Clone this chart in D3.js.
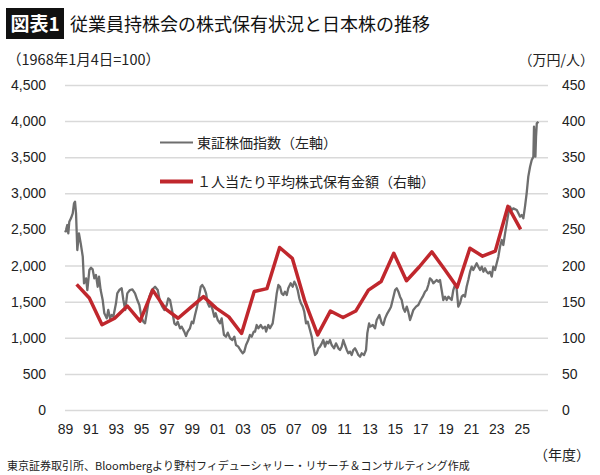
<!DOCTYPE html>
<html lang="ja">
<head>
<meta charset="utf-8">
<script src="https://cdn.jsdelivr.net/npm/d3@7"></script>
<style>
  html, body { margin: 0; padding: 0; background: #fff; }
  svg text { font-family: "Noto Sans CJK JP", sans-serif; fill: #222; }
  svg .num text, svg text.num { font-family: "Liberation Sans", Arial, sans-serif; }
</style>
</head>
<body>
<div id="chart"></div>
<script>
// 1人当たり平均株式保有金額（万円、年度末）
var fiscalYears = [1989, 1990, 1991, 1992, 1993, 1994, 1995, 1996, 1997, 1998,
    1999, 2000, 2001, 2002, 2003, 2004, 2005, 2006, 2007, 2008,
    2009, 2010, 2011, 2012, 2013, 2014, 2015, 2016, 2017, 2018,
    2019, 2020, 2021, 2022, 2023, 2024];
var holdingPerPerson = [174, 155, 118, 127, 144, 123, 166, 140, 127, 142,
    157, 141, 129, 106, 164, 168, 225, 210, 150, 104,
    137, 128, 137, 166, 178, 217, 179, 198, 219, 195,
    170, 224, 213, 220, 282, 250];

// 東証株価指数 [年, 値]
var topix = [
    [1989.27, 2460], [1989.33, 2492], [1989.43, 2561], [1989.51, 2446], [1989.59, 2607],
    [1989.72, 2654], [1989.86, 2723], [1989.96, 2862], [1990.04, 2884], [1990.12, 2723],
    [1990.22, 2215], [1990.35, 2446], [1990.49, 2307], [1990.65, 2123], [1990.75, 1754],
    [1990.91, 1823], [1991.01, 1661], [1991.17, 1938], [1991.30, 1970], [1991.43, 1947],
    [1991.56, 1823], [1991.69, 1869], [1991.83, 1707], [1991.93, 1846], [1992.06, 1661],
    [1992.22, 1523], [1992.35, 1339], [1992.54, 1269], [1992.66, 1385], [1992.80, 1269],
    [1992.93, 1315], [1993.06, 1292], [1993.27, 1477], [1993.37, 1615], [1993.53, 1661],
    [1993.72, 1685], [1993.85, 1523], [1994.00, 1385], [1994.16, 1615], [1994.37, 1661],
    [1994.56, 1671], [1994.77, 1615], [1994.95, 1523], [1995.11, 1454], [1995.27, 1292],
    [1995.42, 1223], [1995.56, 1200], [1995.69, 1339], [1995.90, 1569], [1996.09, 1661],
    [1996.35, 1707], [1996.56, 1661], [1996.74, 1500], [1996.92, 1431], [1997.08, 1385],
    [1997.27, 1454], [1997.39, 1546], [1997.53, 1523], [1997.71, 1361], [1997.87, 1200],
    [1998.00, 1177], [1998.13, 1223], [1998.32, 1131], [1998.45, 1154], [1998.65, 1085],
    [1998.79, 1025], [1998.92, 1085], [1999.10, 1131], [1999.24, 1223], [1999.36, 1200],
    [1999.50, 1315], [1999.66, 1431], [1999.81, 1569], [1999.95, 1707], [2000.07, 1731],
    [2000.23, 1685], [2000.37, 1615], [2000.50, 1477], [2000.63, 1431], [2000.76, 1454],
    [2000.89, 1385], [2001.02, 1292], [2001.13, 1339], [2001.29, 1246], [2001.47, 1200],
    [2001.60, 1269], [2001.78, 1039], [2001.94, 1015], [2002.08, 1071], [2002.26, 993],
    [2002.44, 969], [2002.60, 1015], [2002.73, 900], [2002.91, 877], [2003.07, 831],
    [2003.26, 785], [2003.38, 808], [2003.52, 900], [2003.70, 969], [2003.83, 1039],
    [2003.97, 1015], [2004.13, 1085], [2004.23, 1085], [2004.36, 1177], [2004.49, 1131],
    [2004.68, 1177], [2004.84, 1131], [2005.02, 1154], [2005.10, 1085], [2005.28, 1177],
    [2005.41, 1131], [2005.62, 1200], [2005.81, 1431], [2005.94, 1615], [2006.07, 1731],
    [2006.20, 1707], [2006.33, 1615], [2006.46, 1592], [2006.59, 1638], [2006.73, 1592],
    [2006.85, 1685], [2007.04, 1754], [2007.20, 1707], [2007.33, 1777], [2007.46, 1731],
    [2007.59, 1661], [2007.72, 1546], [2007.85, 1477], [2007.99, 1431], [2008.11, 1361],
    [2008.25, 1200], [2008.38, 1223], [2008.56, 1108], [2008.70, 1015], [2008.82, 877],
    [2008.96, 762], [2009.09, 785], [2009.22, 854], [2009.35, 877], [2009.49, 923],
    [2009.61, 969], [2009.75, 877], [2009.88, 946], [2010.01, 923], [2010.14, 969],
    [2010.27, 900], [2010.46, 854], [2010.61, 923], [2010.80, 854], [2010.93, 831],
    [2011.06, 877], [2011.19, 969], [2011.32, 900], [2011.46, 831], [2011.58, 785],
    [2011.72, 808], [2011.85, 762], [2011.98, 831], [2012.11, 854], [2012.25, 808],
    [2012.37, 762], [2012.51, 738], [2012.64, 785], [2012.82, 762], [2012.98, 831],
    [2013.08, 1062], [2013.22, 1200], [2013.29, 1154], [2013.51, 1177], [2013.69, 1131],
    [2013.82, 1246], [2014.03, 1315], [2014.22, 1200], [2014.34, 1177], [2014.48, 1269],
    [2014.66, 1339], [2014.82, 1385], [2014.95, 1431], [2015.08, 1523], [2015.27, 1661],
    [2015.40, 1685], [2015.53, 1638], [2015.66, 1569], [2015.79, 1523], [2015.92, 1408],
    [2016.05, 1361], [2016.19, 1431], [2016.31, 1361], [2016.45, 1246], [2016.58, 1315],
    [2016.71, 1385], [2016.92, 1431], [2017.10, 1454], [2017.29, 1523], [2017.45, 1569],
    [2017.63, 1638], [2017.76, 1661], [2017.89, 1731], [2018.02, 1823], [2018.16, 1800],
    [2018.28, 1754], [2018.42, 1777], [2018.55, 1800], [2018.68, 1777], [2018.81, 1800],
    [2018.94, 1661], [2019.07, 1523], [2019.21, 1569], [2019.34, 1523], [2019.47, 1569],
    [2019.60, 1546], [2019.73, 1523], [2019.86, 1661], [2019.99, 1731], [2020.12, 1685],
    [2020.25, 1431], [2020.39, 1477], [2020.52, 1569], [2020.65, 1592], [2020.78, 1569],
    [2020.91, 1707], [2021.04, 1800], [2021.18, 1915], [2021.31, 1985], [2021.43, 1938],
    [2021.57, 1985], [2021.70, 2031], [2021.83, 1985], [2021.97, 1938], [2022.10, 1985],
    [2022.23, 1915], [2022.36, 1962], [2022.49, 1915], [2022.62, 1892], [2022.75, 1915],
    [2022.89, 1846], [2023.01, 1985], [2023.15, 1938], [2023.28, 2031], [2023.41, 2123],
    [2023.54, 2261], [2023.68, 2354], [2023.80, 2285], [2023.94, 2446], [2024.07, 2584],
    [2024.20, 2723], [2024.33, 2815], [2024.47, 2769], [2024.59, 2792], [2024.86, 2769],
    [2024.99, 2723], [2025.12, 2677], [2025.25, 2700], [2025.38, 2654], [2025.51, 2815],
    [2025.64, 3000], [2025.77, 3231], [2025.91, 3369], [2026.04, 3461], [2026.17, 3508],
    [2026.22, 3923], [2026.26, 3785], [2026.33, 3508], [2026.38, 3785], [2026.44, 3969],
    [2026.57, 3992]
];

var leftTicks = [0, 500, 1000, 1500, 2000, 2500, 3000, 3500, 4000, 4500];
var rightTicks = [0, 50, 100, 150, 200, 250, 300, 350, 400, 450];
var xTickYears = [1989, 1991, 1993, 1995, 1997, 1999, 2001, 2003, 2005, 2007,
    2009, 2011, 2013, 2015, 2017, 2019, 2021, 2023, 2025];

(function () {
    "use strict";

    var width = 600,
        height = 475,
        left = 65,
        right = 548,
        top = 85,
        bottom = 410,

        svg = d3.select("#chart")
            .append("svg")
            .attr("width", width)
            .attr("height", height),

        // 年度は4月始まり：ラベルは4月の位置
        x = d3.scaleLinear().domain([1989.25, 2025.25]).range([left, 521.7]),
        yL = d3.scaleLinear().domain([0, 4500]).range([bottom, top]),
        yR = d3.scaleLinear().domain([0, 450]).range([bottom, top]);

    // title
    svg.append("rect")
        .attr("x", 6).attr("y", 8)
        .attr("width", 58).attr("height", 31)
        .attr("fill", "#111");
    svg.append("text")
        .attr("x", 35).attr("y", 30.5)
        .attr("text-anchor", "middle")
        .style("font-size", "19px")
        .style("font-weight", 700)
        .style("fill", "#fff")
        .text("図表1");
    svg.append("text")
        .attr("x", 70).attr("y", 30.5)
        .style("font-size", "18px")
        .style("font-weight", 400)
        .style("fill", "#111")
        .text("従業員持株会の株式保有状況と日本株の推移");

    svg.append("text")
        .attr("x", 7).attr("y", 65)
        .style("font-size", "14.5px")
        .text("（1968年1月4日=100）");
    svg.append("text")
        .attr("x", 594).attr("y", 65)
        .attr("text-anchor", "end")
        .style("font-size", "14px")
        .text("（万円/人）");

    // grid
    svg.append("g")
        .attr("transform", "translate(" + left + ",0)")
        .call(d3.axisLeft(yL).tickValues(leftTicks).tickSize(-(right - left)).tickFormat(""))
        .call(function (g) {
            g.select(".domain").remove();
            g.selectAll("line").attr("stroke", "#d9d9d9").attr("stroke-width", 1.5);
        });

    svg.append("g")
        .attr("class", "num")
        .attr("transform", "translate(" + left + ",0)")
        .call(d3.axisLeft(yL).tickValues(leftTicks).tickSize(0).tickPadding(19).tickFormat(d3.format(",")))
        .call(function (g) {
            g.select(".domain").remove();
            g.selectAll("text").style("font-size", "14px").style("fill", "#222");
        });

    svg.append("g")
        .attr("class", "num")
        .attr("transform", "translate(" + right + ",0)")
        .call(d3.axisRight(yR).tickValues(rightTicks).tickSize(0).tickPadding(14))
        .call(function (g) {
            g.select(".domain").remove();
            g.selectAll("text").style("font-size", "14px").style("fill", "#222");
        });

    svg.append("g")
        .attr("class", "num")
        .attr("transform", "translate(0," + bottom + ")")
        .call(d3.axisBottom(x)
            .tickValues(xTickYears.map(function (yr) { return yr + 0.25; }))
            .tickSize(0).tickPadding(14)
            .tickFormat(function (d) { return d3.format("02d")(Math.floor(d) % 100); }))
        .call(function (g) {
            g.select(".domain").remove();
            g.selectAll("text").style("font-size", "14px").style("fill", "#222");
        });

    // lines
    svg.append("path")
        .datum(topix)
        .attr("fill", "none")
        .attr("stroke", "#6e6e6e")
        .attr("stroke-width", 2.3)
        .attr("stroke-linejoin", "round")
        .attr("d", d3.line()
            .x(function (d) { return x(d[0]); })
            .y(function (d) { return yL(d[1]); }));

    svg.append("path")
        .datum(fiscalYears.map(function (fy, i) { return [fy + 1 + 2 / 12, holdingPerPerson[i]]; }))
        .attr("fill", "none")
        .attr("stroke", "#c0272d")
        .attr("stroke-width", 3.5)
        .attr("stroke-linejoin", "round")
        .attr("d", d3.line()
            .x(function (d) { return x(d[0]); })
            .y(function (d) { return yR(d[1]); }));

    // legend
    var legend = [
        {label: "東証株価指数（左軸）", color: "#6e6e6e", w: 2, y: 142.5},
        {label: "１人当たり平均株式保有金額（右軸）", color: "#c0272d", w: 4, y: 181.5}
    ];
    var lg = svg.append("g").selectAll("g").data(legend).enter().append("g");
    lg.append("line")
        .attr("x1", 160).attr("x2", 193)
        .attr("y1", function (d) { return d.y; }).attr("y2", function (d) { return d.y; })
        .attr("stroke", function (d) { return d.color; })
        .attr("stroke-width", function (d) { return d.w; });
    lg.append("text")
        .attr("x", 197)
        .attr("y", function (d) { return d.y + 5; })
        .style("font-size", "14px")
        .text(function (d) { return d.label; });

    // footer
    svg.append("text")
        .attr("x", 590).attr("y", 460)
        .attr("text-anchor", "end")
        .style("font-size", "14px")
        .text("（年度）");
    svg.append("text")
        .attr("x", 7).attr("y", 470)
        .style("font-size", "11px")
        .text("東京証券取引所、Bloombergより野村フィデューシャリー・リサーチ＆コンサルティング作成");
}());
</script>
</body>
</html>
